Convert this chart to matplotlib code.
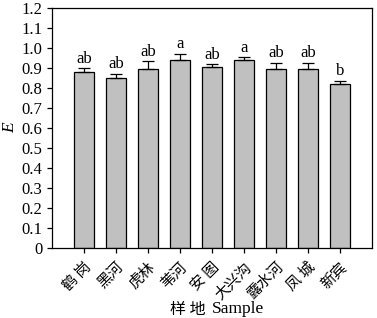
import matplotlib.pyplot as plt
import numpy as np

sites = ["鹤 岗", "黑河", "虎林", "苇河", "安 图", "大兴沟", "露水河", "凤 城", "新宾"]
e_mean = [0.878, 0.849, 0.895, 0.940, 0.903, 0.938, 0.897, 0.897, 0.820]
e_err = [0.021, 0.021, 0.039, 0.031, 0.015, 0.015, 0.028, 0.028, 0.017]
letters = ["ab", "ab", "ab", "a", "ab", "a", "ab", "ab", "b"]
yticks = [0, 0.1, 0.2, 0.3, 0.4, 0.5, 0.6, 0.7, 0.8, 0.9, 1.0, 1.1, 1.2]

serif = ["Liberation Serif", "DejaVu Serif"]
cjk = ["Noto Sans CJK SC", "DejaVu Sans"]

fig = plt.figure(figsize=(3.77, 3.18), dpi=100)
ax = fig.add_axes([0.138, 0.220, 0.849, 0.755])

x = np.arange(len(sites))
ax.bar(x, e_mean, width=0.65, color="#c0c0c0", edgecolor="black", linewidth=0.9)
ax.errorbar(x, e_mean, yerr=[np.zeros(len(x)), e_err], fmt="none",
            ecolor="black", elinewidth=0.9, capsize=4, capthick=0.9)

for xi, m, er, lab in zip(x, e_mean, e_err, letters):
    ax.text(xi, m + er + 0.008, lab, ha="center", va="bottom",
            fontsize=12, family=serif)

ax.set_xlim(-1, len(sites))
ax.set_ylim(0, 1.2)
ax.set_yticks(yticks)
ax.set_yticklabels(["0"] + ["%.1f" % v for v in yticks[1:]], family=serif, fontsize=12)
ax.set_xticks(x)
ax.set_xticklabels(sites, rotation=45, ha="right", rotation_mode="anchor",
                   family=cjk, fontsize=10.8)
ax.tick_params(direction="out", length=3.5, width=0.9)
ax.tick_params(axis="x", pad=5)
for s in ax.spines.values():
    s.set_linewidth(0.9)

ax.set_ylabel("E", family=serif, style="italic", fontsize=12.5, labelpad=2)
# x label: Chinese part and Latin part in different faces
fig.text(0.545, 0.028, "样 地", family=cjk, fontsize=11.5, ha="right", va="center")
fig.text(0.562, 0.028, "Sample", family=serif, fontsize=12.5, ha="left", va="center")

fig.savefig("out.png", dpi=100)
